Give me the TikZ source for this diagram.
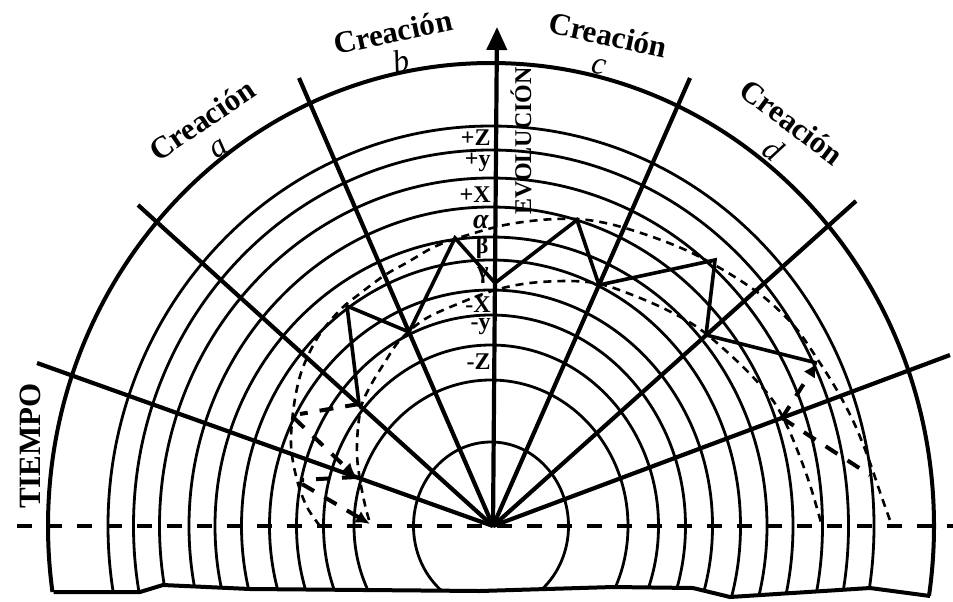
\documentclass[tikz,border=0pt]{standalone}
\usepackage{fontspec}
\setmainfont{Liberation Serif}
\usetikzlibrary{arrows.meta}
\begin{document}
\begin{tikzpicture}[x=0.5pt,y=-0.5pt,
  arcl/.style={line width=1.4pt},
  outl/.style={line width=2pt},
  radl/.style={line width=2.1pt},
  zig/.style={line width=1.8pt, line join=miter},
  fdash/.style={line width=1.3pt, dash pattern=on 4pt off 3pt},
  tdash/.style={line width=2pt, dash pattern=on 7pt off 6pt},
  hdash/.style={line width=2pt, dash pattern=on 7.5pt off 7.5pt},
  tip/.style={-{Latex[length=7pt,width=6.5pt]}},
  lab/.style={font=\bfseries\fontsize{12}{13}\selectfont, anchor=east, inner sep=0pt},
  cre/.style={font=\bfseries\fontsize{15.5}{16}\selectfont, inner sep=0pt},
  crelet/.style={font=\itshape\fontsize{16}{17}\selectfont, inner sep=0pt}]
\useasboundingbox (0,0) rectangle (953,601);
\coordinate (O) at (493,526);
\coordinate (E) at (491,526);
% concentric arcs, clipped at the wavy bottom edge
\begin{scope}
\clip (0,0) -- (953,0) -- (953,596) -- (930,596) -- (870,588) -- (730,597) -- (693,588)
  -- (613,587) -- (480,591) -- (250,589) -- (163,585) -- (140,592) -- (0,592) -- cycle;
\foreach \rx/\ry in {77.5/84, 137/146, 167.5/181, 194.5/211, 221.5/236, 249.5/266,
  276/289, 302/319, 331.5/348, 357.5/376, 383/400}
  \draw[arcl] (E) ellipse [x radius=\rx, y radius=\ry];
\draw[outl] (E) ellipse [x radius=443, y radius=463];
\end{scope}
% bottom edge
\draw[outl] (53.5,592) -- (140,592) -- (163,585) -- (250,589) -- (480,591) -- (613,587)
  -- (693,588) -- (730,597) -- (870,588) -- (930,596);
% horizontal dashed line
\coordinate (hl) at (17,526);
\coordinate (hr) at (953,526);
\draw[hdash] (hl) -- (hr);
% radial lines
\coordinate (Lt) at (37,363);
\coordinate (La) at (138,205);
\coordinate (Lb) at (299,78);
\coordinate (Lc) at (690,78);
\coordinate (Ld) at (856,201);
\coordinate (Lr) at (950,355);
\foreach \p in {Lt,La,Lb,Lc,Ld,Lr} \draw[radl] (O) -- (\p);
\coordinate (Ax) at (497,27);
\draw[radl, -{Triangle[length=11.5pt,width=10pt]}] (O) -- (Ax);
% solid zigzag
\coordinate (P0) at (359,404);
\coordinate (P1) at (347,306);
\coordinate (P2) at (409,332);
\coordinate (P3) at (455,238);
\coordinate (P4) at (495,283);
\coordinate (P5) at (577,220);
\coordinate (P6) at (599,285);
\coordinate (P7) at (715,260);
\coordinate (P8) at (706,335);
\coordinate (P9) at (817,363);
\draw[zig] (P0) -- (P1) -- (P2) -- (P3) -- (P4) -- (P5) -- (P6) -- (P7) -- (P8) -- (P9);
% fine dashed envelopes
\draw[fdash] plot[smooth, tension=0.55] coordinates {(320,526) (307,507) (297,480) (291,445)
  (294,405) (302,370) (318,337) (340,310) (362,292) (385,275) (408,262) (432,248) (455,239)
  (500,226) (540,220) (577,219) (610,224) (650,236) (690,252) (730,274) (765,298) (795,327)
  (818,360) (838,392) (855,425) (869,460) (881,495) (892,526)};
\draw[fdash] plot[smooth, tension=0.55] coordinates {(369,520) (365,505) (360,480) (357,455)
  (358,428) (362,404) (372,383) (385,362) (400,340) (425,319) (460,303) (495,290) (530,283)
  (570,281) (600,284) (630,294) (665,309) (697,327) (725,350) (752,376) (774,402) (788,428)
  (800,457) (811,488) (822,526)};
% thick dashed steps
\coordinate (Jl) at (356,477);
\coordinate (Jr) at (782,418);
\coordinate (Q1) at (300,414);
\coordinate (Q2) at (294,418);
\coordinate (Q3) at (300,480);
\coordinate (Q4) at (302,484);
\coordinate (Q5) at (370,524);
\coordinate (Q6) at (870,475);
\draw[tdash] (P0) -- (Q1);
\draw[tdash, tip] (Q2) -- (Jl);
\draw[tdash] (Jl) -- (Q3);
\draw[tdash, tip] (Q4) -- (Q5);
\draw[tdash, tip] (Jr) -- (P9);
\draw[tdash] (Jr) -- (Q6);
% axis labels
\node[lab] (lZp) at (491,138) {+Z};
\node[lab] (lyp) at (491,162) {+y};
\node[lab] (lXp) at (491,195) {+X};
\node[lab, font=\bfseries\itshape\fontsize{14}{15}\selectfont] (lal) at (489,222) {α};
\node[lab] (lbe) at (489,248) {β};
\node[lab] (lga) at (489,276) {γ};
\node[lab] (lXm) at (491,305) {-X};
\node[lab] (lym) at (491,327) {-y};
\node[lab] (lZm) at (491,362) {-Z};
% other texts
\node[rotate=90, font=\bfseries\fontsize{15.5}{16}\selectfont, inner sep=0pt] (tiempo) at (30,446) {TIEMPO};
\node[rotate=90, font=\bfseries\fontsize{12}{13}\selectfont, inner sep=0pt] (evo) at (521,141) {EVOLUCIÓN};
\node[cre, rotate=34] (ca) at (202,120) {Creación};
\node[crelet, rotate=34] (la) at (219,149) {a};
\node[cre, rotate=12] (cb) at (393,32) {Creación};
\node[crelet, rotate=12] (lb) at (401,61) {b};
\node[cre, rotate=-12] (cc) at (608,35) {Creación};
\node[crelet, rotate=-12] (lc) at (599,67) {c};
\node[cre, rotate=-37] (cd) at (792,122) {Creación};
\node[crelet, rotate=-37] (ld) at (773,150) {d};
\end{tikzpicture}
\end{document}
